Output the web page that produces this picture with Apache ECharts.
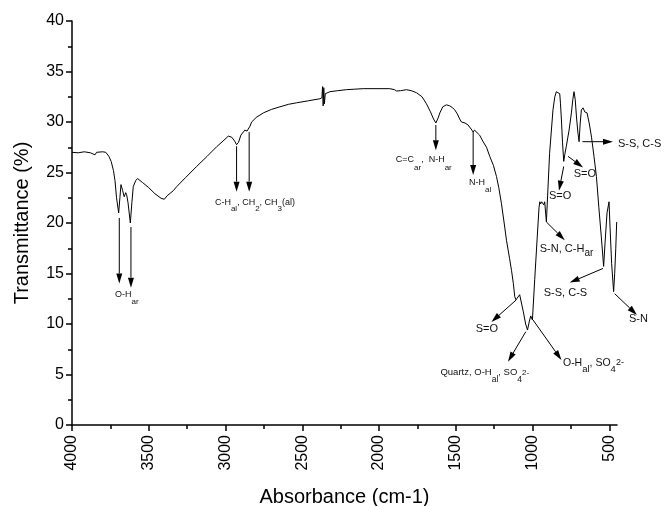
<!DOCTYPE html>
<html>
<head>
<meta charset="utf-8">
<script src="https://cdn.jsdelivr.net/npm/echarts@6/dist/echarts.min.js"></script>
<style>
html, body { margin: 0; padding: 0; background: #fff; }
#ftir { width: 664px; height: 506px; }
</style>
</head>
<body>
<div id="ftir"></div>
<script>
// spectrum (cm-1 / %)
var wavenumber = [4000, 3960, 3920, 3880, 3850, 3840, 3800, 3780, 3760, 3745, 3730, 3720, 3710, 3696, 3688, 3681,
    3670, 3660, 3650, 3644, 3635, 3620, 3610, 3601, 3585, 3573, 3540, 3500, 3460, 3420, 3399, 3380, 3340, 3318,
    3260, 3188, 3120, 3058, 3010, 2982, 2960, 2940, 2928, 2915, 2900, 2874, 2860, 2852, 2840, 2830, 2800, 2754,
    2700, 2646, 2590, 2537, 2460, 2386, 2372, 2368, 2364, 2360, 2356, 2350, 2320, 2270, 2212, 2160, 2103, 2000,
    1930, 1900, 1886, 1860, 1821, 1790, 1756, 1720, 1691, 1665, 1645, 1630, 1615, 1604, 1585, 1561, 1540, 1520,
    1507, 1490, 1475, 1463, 1440, 1420, 1395, 1387, 1378, 1370, 1345, 1322, 1300, 1279, 1255, 1235, 1220, 1203,
    1185, 1170, 1150, 1137, 1125, 1116, 1108, 1099, 1084, 1072, 1060, 1045, 1033, 1022, 1012, 1001, 986, 970,
    958, 953, 947, 941, 932, 927, 921, 910, 889, 867, 855, 845, 835, 823, 818, 812, 805, 797, 790, 780, 770, 762,
    747, 738, 730, 722, 714, 705, 697, 690, 682, 671, 660, 645, 630, 616, 600, 584, 568, 552, 537, 528, 515, 502,
    495, 485, 472, 465, 458, 452];
var transmittance = [27.0, 26.95, 27.05, 26.95, 26.75, 27.0, 27.05, 27.0, 26.6, 26.1, 25.2, 24.2, 22.5, 21.0, 22.5, 23.8,
    23.2, 22.6, 23.0, 22.8, 22.0, 20.0, 22.0, 23.6, 24.2, 24.4, 24.0, 23.5, 22.9, 22.45, 22.35, 22.7, 23.2, 23.6,
    24.5, 25.6, 26.6, 27.55, 28.2, 28.6, 28.5, 28.1, 27.75, 28.0, 28.7, 29.2, 29.1, 29.0, 29.6, 30.0, 30.45, 30.9,
    31.25, 31.5, 31.75, 31.9, 32.1, 32.3, 32.4, 33.5, 31.6, 33.4, 31.8, 32.8, 33.0, 33.1, 33.2, 33.25, 33.3, 33.3,
    33.3, 33.2, 33.07, 33.1, 33.2, 33.1, 32.9, 32.5, 31.8, 31.0, 30.3, 29.9, 30.4, 30.9, 31.5, 31.7, 31.6, 31.4,
    31.2, 30.8, 30.3, 30.0, 29.9, 29.7, 29.2, 29.0, 29.2, 29.1, 28.7, 28.05, 27.5, 26.6, 25.7, 24.6, 23.5, 21.95,
    20.0, 18.3, 16.5, 15.3, 14.0, 12.7, 12.4, 12.5, 12.9, 12.9, 11.2, 10.0, 9.4, 10.2, 10.8, 10.4, 14.4, 18.5,
    21.5, 22.1, 21.9, 22.1, 22.0, 21.8, 22.1, 20.1, 26.9, 31.2, 32.5, 33.0, 32.9, 32.8, 31.8, 30.2, 28.0, 26.1,
    26.8, 27.6, 28.5, 29.2, 30.9, 32.2, 33.0, 32.2, 30.5, 29.0, 28.05, 29.8, 31.2, 31.4, 31.0, 30.9, 29.8, 28.5,
    26.6, 24.6, 21.5, 18.6, 15.7, 18.0, 21.0, 22.1, 19.5, 16.0, 13.2, 15.0, 17.5, 20.1];

var majorTicks = [4000, 3500, 3000, 2500, 2000, 1500, 1000, 500];
var minorTicks = [3750, 3250, 2750, 2250, 1750, 1250, 750];

// band assignments: arrow [from cm-1, from %, to cm-1, to %]
var arrows = [
    [3692, 20.5, 3692, 14.0], [3616, 19.6, 3616, 13.6],
    [2928, 27.6, 2928, 23.1], [2846, 29.0, 2846, 23.1],
    [1630, 29.7, 1630, 27.2], [1387, 29.0, 1387, 24.75],
    [675, 28.05, 476, 28.05], [769, 26.6, 671, 25.5], [797, 25.6, 828, 23.2],
    [910, 20.1, 790, 18.3], [541, 15.5, 758, 14.1], [465, 13.0, 320, 10.9],
    [1105, 12.4, 1268, 10.2], [1044, 9.24, 1160, 6.27], [997, 10.4, 812, 6.44]
];
var labelText = [
    '{n|O-H}{s|ar}',
    '{n|C-H}{s|al}{n|, CH}{s|2}{n|, CH}{s|3}{n|(al)}',
    '{n|C=C}{s|ar}{n|,  N-H}{s|ar}',
    '{n|N-H}{s|al}',
    '{n|S-S, C-S}',
    '{n|S=O}',
    '{n|S=O}',
    '{n|S-N, C-H}{s|ar}',
    '{n|S-S, C-S}',
    '{n|S-N}',
    '{n|S=O}',
    '{n|Quartz, O-H}{s|al}{n|, SO}{s|4}{p|2-}',
    '{n|O-H}{s|al}{n|, SO}{s|4}{p|2-}'
];
var labelAt = [
    [3720, 12.94], [3069, 22.0], [1891, 26.24], [1414, 24.0], [444, 27.8], [732, 24.9], [893, 22.7],
    [953, 17.4], [927, 13.1], [372, 10.5], [1370, 9.5], [1600, 5.2], [802, 6.17]
];
var labelSize = [9, 9, 9, 9, 11, 11, 11, 11, 11, 11, 11, 9.5, 10.5];
var labelShift = [7, 6, 8, 7, 0, 0, 0, 4, 0, 0, 0, 7, 7];

var font = "'Liberation Sans', Arial, sans-serif";

function drawArrow(params, api) {
    var p1 = api.coord([api.value(0), api.value(1)]);
    var p2 = api.coord([api.value(2), api.value(3)]);
    var dx = p2[0] - p1[0], dy = p2[1] - p1[1];
    var len = Math.sqrt(dx * dx + dy * dy);
    var ux = dx / len, uy = dy / len;
    var hl = 10, hw = 3;
    var bx = p2[0] - ux * hl, by = p2[1] - uy * hl;
    return {
        type: 'group',
        children: [
            { type: 'line', shape: { x1: p1[0], y1: p1[1], x2: bx, y2: by },
              style: { stroke: '#000', lineWidth: 1 } },
            { type: 'polygon', shape: { points: [[p2[0], p2[1]], [bx - uy * hw, by + ux * hw], [bx + uy * hw, by - ux * hw]] },
              style: { fill: '#000' } }
        ]
    };
}

function drawLabel(params, api) {
    var i = api.value(2);
    var p = api.coord([api.value(0), api.value(1)]);
    var size = labelSize[i];
    return {
        type: 'text',
        x: p[0],
        y: p[1],
        style: {
            text: labelText[i],
            fill: '#111',
            fontFamily: font,
            fontSize: size,
            align: 'left',
            verticalAlign: 'middle',
            rich: {
                n: { fontSize: size, fontFamily: font, fill: '#111' },
                s: { fontSize: size - 1, fontFamily: font, fill: '#111', padding: [labelShift[i] * 2, 0, 0, 0] },
                p: { fontSize: size - 1.5, fontFamily: font, fill: '#111' }
            }
        }
    };
}

var chart = echarts.init(document.getElementById('ftir'));
var option = {
    animation: false,
    backgroundColor: '#fff',
    grid: { left: 72, right: 47, top: 21, bottom: 81, containLabel: false, outerBoundsMode: 'none' },
    xAxis: [{
        type: 'value',
        min: 450,
        max: 4000,
        inverse: true,
        position: 'bottom',
        name: 'Absorbance (cm-1)',
        nameLocation: 'middle',
        nameGap: 62,
        nameTextStyle: { fontSize: 20, fontFamily: font, color: '#000' },
        axisLine: { show: true, onZero: false, lineStyle: { color: '#000', width: 1.5 } },
        axisTick: { show: true, length: 6, customValues: majorTicks, lineStyle: { color: '#000', width: 1.5 } },
        axisLabel: {
            show: true, customValues: majorTicks, rotate: 90, margin: 10,
            fontSize: 16, fontFamily: font, color: '#000',
            formatter: function (v) { return String(v); }
        },
        splitLine: { show: false }
    }, {
        type: 'value',
        min: 450,
        max: 4000,
        inverse: true,
        position: 'bottom',
        axisLine: { show: false, onZero: false },
        axisTick: { show: true, length: 4, customValues: minorTicks, lineStyle: { color: '#000', width: 1.5 } },
        axisLabel: { show: false },
        splitLine: { show: false }
    }],
    yAxis: {
        type: 'value',
        min: 0,
        max: 40,
        interval: 5,
        name: 'Transmittance (%)',
        nameLocation: 'middle',
        nameGap: 40,
        nameTextStyle: { fontSize: 20, fontFamily: font, color: '#000' },
        axisLine: { show: true, onZero: false, lineStyle: { color: '#000', width: 1.5 } },
        axisTick: { show: true, length: 6, lineStyle: { color: '#000', width: 1.5 } },
        minorTick: { show: true, splitNumber: 2, length: 4, lineStyle: { color: '#000', width: 1.5 } },
        axisLabel: { margin: 8, fontSize: 16, fontFamily: font, color: '#000' },
        splitLine: { show: false }
    },
    series: [{
        name: 'Spectrum',
        type: 'line',
        data: wavenumber.map(function (w, i) { return [w, transmittance[i]]; }),
        showSymbol: false,
        lineStyle: { color: '#000', width: 1 },
        itemStyle: { color: '#000' }
    }, {
        name: 'Arrows',
        type: 'custom',
        renderItem: drawArrow,
        data: arrows,
        clip: false,
        silent: true
    }, {
        name: 'Labels',
        type: 'custom',
        renderItem: drawLabel,
        data: labelAt.map(function (p, i) { return [p[0], p[1], i]; }),
        clip: false,
        silent: true
    }]
};
chart.setOption(option);
</script>
</body>
</html>
